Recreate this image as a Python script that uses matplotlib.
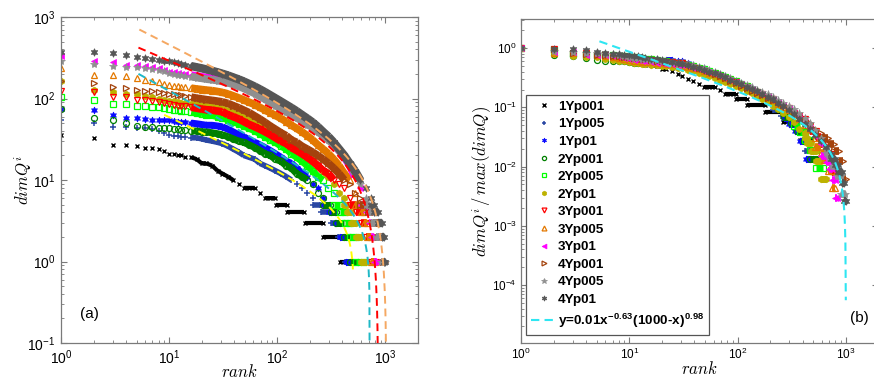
import numpy as np
import matplotlib
matplotlib.use("Agg")
import matplotlib.pyplot as plt
from matplotlib.ticker import LogLocator, NullFormatter

plt.rcParams['font.family'] = ['Liberation Sans', 'DejaVu Sans']
plt.rcParams['mathtext.fontset'] = 'custom'
plt.rcParams['mathtext.rm'] = 'cmr10'
plt.rcParams['mathtext.it'] = 'cmmi10'
plt.rcParams['mathtext.bf'] = 'Liberation Sans:bold'
plt.rcParams['axes.unicode_minus'] = True

RANK = [1, 2, 3, 4, 5, 6, 7, 8, 9, 10, 11, 12, 13, 14, 16, 18, 20, 22, 25, 28,
        31, 35, 39, 44, 49, 55, 62, 69, 77, 86, 96, 108, 121, 135, 151, 169,
        189, 212, 237, 265, 297, 332, 372, 416, 466, 522, 584, 654, 732]

NAMES = ["1Yp001", "1Yp005", "1Yp01", "2Yp001", "2Yp005", "2Yp01",
         "3Yp001", "3Yp005", "3Yp01", "4Yp001", "4Yp005", "4Yp01"]

# values above 5, at the ranks above
y1p001 = [36, 33, 27, 27, 26, 25, 25, 24, 23, 21, 21, 20, 20, 19, 19, 18, 16, 16,
          15, 13, 12, 11, 10, 9, 8, 8, 8, 7, 6, 6, 6]
y1p005 = [55, 50, 45, 45, 44, 43, 42, 40, 38, 36, 35, 35, 34, 34, 33, 33, 32, 31,
          30, 29, 28, 26, 24, 22, 20, 19, 18, 16, 15, 14, 13, 12, 11, 10, 9, 8,
          7, 6]
y1p01 = [75, 72, 63, 58, 57, 56, 55, 55, 54, 54, 53, 52, 52, 51, 50, 49, 48, 47,
         47, 46, 45, 42, 39, 36, 34, 31, 29, 27, 25, 23, 21, 19, 17, 16, 14, 12,
         11, 9, 8, 6]
y2p001 = [74, 57, 55, 50, 46, 45, 45, 44, 44, 43, 42, 42, 41, 41, 40, 40, 39, 39,
          38, 37, 36, 34, 32, 30, 29, 27, 25, 23, 21, 20, 18, 17, 15, 14, 12, 11,
          10, 9, 7, 6]
y2p005 = [105, 96, 85, 85, 81, 80, 79, 78, 76, 74, 73, 72, 71, 70, 68, 66, 64, 63,
          62, 60, 58, 55, 52, 49, 46, 43, 40, 37, 34, 31, 29, 26, 24, 21, 19, 17,
          15, 13, 11, 10, 8, 7]
y2p01 = [162, 127, 121, 114, 113, 108, 104, 100, 97, 94, 92, 90, 88, 87, 85, 83,
         81, 80, 78, 76, 74, 70, 66, 62, 58, 54, 50, 46, 43, 40, 37, 34, 31, 28,
         25, 22, 20, 17, 15, 13, 11, 9, 7, 6]
y3p001 = [125, 121, 105, 104, 96, 95, 92, 90, 88, 85, 84, 82, 81, 80, 78, 76, 74,
          73, 72, 70, 69, 63, 60, 56, 52, 48, 45, 42, 39, 36, 33, 30, 28, 25, 23,
          21, 19, 17, 15, 13, 12, 10, 9, 8, 6]
y3p005 = [234, 194, 194, 190, 177, 170, 165, 160, 152, 145, 143, 141, 139, 137,
          134, 131, 129, 127, 125, 122, 119, 114, 108, 102, 96, 90, 84, 78, 72,
          67, 62, 57, 52, 47, 43, 39, 35, 31, 27, 24, 21, 18, 15, 12, 10, 7]
y3p01 = [333, 289, 283, 258, 258, 250, 245, 236, 225, 214, 210, 206, 202, 199,
         194, 189, 185, 181, 177, 173, 170, 163, 155, 147, 139, 130, 121, 112,
         104, 96, 88, 81, 74, 67, 61, 56, 51, 46, 41, 36, 32, 27, 23, 19, 15, 11,
         8]
y4p001 = [164, 156, 137, 133, 127, 124, 122, 120, 118, 115, 113, 111, 109, 107,
          104, 101, 99, 97, 95, 93, 91, 87, 82, 77, 72, 67, 61, 56, 51, 46, 42,
          38, 35, 31, 29, 26, 24, 22, 20, 18, 16, 14, 12, 10, 9, 7, 6]
y4p005 = [291, 262, 250, 245, 241, 236, 230, 224, 215, 205, 201, 197, 194, 191,
          186, 181, 177, 173, 170, 166, 162, 156, 149, 141, 133, 124, 115, 106,
          98, 90, 82, 75, 69, 63, 58, 53, 48, 44, 39, 35, 31, 27, 23, 19, 16, 12,
          9, 6]
y4p01 = [375, 368, 365, 342, 322, 310, 302, 296, 292, 285, 278, 271, 265, 259,
         250, 242, 235, 228, 219, 210, 202, 192, 182, 172, 162, 151, 140, 130,
         120, 110, 101, 92, 84, 77, 70, 63, 57, 51, 45, 39, 34, 29, 24, 20, 16,
         13, 10, 8, 6]

SERIES = [y1p001, y1p005, y1p01, y2p001, y2p005, y2p01,
          y3p001, y3p005, y3p01, y4p001, y4p005, y4p01]

# integer tail: last rank holding the value 5, 4, 3, 2, 1
TAIL_LEVEL = [5, 4, 3, 2, 1]
TAIL_END = [
    [122, 178, 263, 376, 480],
    [250, 310, 360, 420, 470],
    [300, 340, 380, 430, 500],
    [310, 350, 410, 470, 560],
    [380, 420, 470, 530, 620],
    [440, 480, 530, 590, 660],
    [530, 590, 660, 740, 820],
    [590, 630, 680, 740, 800],
    [660, 700, 740, 790, 830],
    [690, 770, 860, 940, 1000],
    [700, 740, 820, 900, 980],
    [790, 850, 920, 970, 1000],
]

# fitted curves y = a x^-b (n - x)^c in panel (a)
FIT_COLOR = ["#f5a862", "#ff0000", "#1fb8c6", "#ffff00"]
FIT_A = [0.7026, 0.2287, 20.3, 12.94]
FIT_B = [0.669, 0.558, 0.729, 0.624]
FIT_C = [1.159, 1.2505, 0.532, 0.4755]
FIT_N = [1020, 858, 716, 510]
FIT_X0 = [5.3, 5.2, 5.2, 9.0]
FIT_X1 = [1019.99, 857.99, 715.99, 500.0]

# collapse curve in panel (b)
B_FIT = (0.0043, 0.63, 0.98, 1000, 5.3, 999.0)
B_LABEL = r"y=0.01x$^{\mathbf{-0.63}}$(1000-x)$^{\mathbf{0.98}}$"

STYLE = [
    dict(marker="x", color="black", ms=3.2, mew=1.0, mfc="black"),
    dict(marker="+", color="#2a47a3", ms=5, mew=1.1, mfc="#2a47a3"),
    dict(marker=(6, 1, 0), color="#0a0aff", ms=5, mew=0.5, mfc="#0a0aff"),
    dict(marker="o", color="#008000", ms=4.3, mew=0.9, mfc="none"),
    dict(marker="s", color="#00ff00", ms=4.5, mew=0.9, mfc="none"),
    dict(marker="h", color="#bdb200", ms=4.8, mew=0.5, mfc="#bdb200"),
    dict(marker="v", color="#ff0000", ms=5, mew=0.9, mfc="none"),
    dict(marker="^", color="#e37800", ms=5, mew=0.9, mfc="none"),
    dict(marker="<", color="#ff00ff", ms=5, mew=0.5, mfc="#ff00ff"),
    dict(marker=">", color="#a4430d", ms=5, mew=0.9, mfc="none"),
    dict(marker="*", color="#8f8f8f", ms=6, mew=0.5, mfc="#8f8f8f"),
    dict(marker=(6, 1, 0), color="#565656", ms=5.5, mew=0.5, mfc="#565656"),
]
BAND_LW = [3.0, 4.0, 5.0, 5.0, 5.0, 5.0, 5.5, 5.5, 5.5, 5.5, 5.5, 6.0]

SPINE = "#7a7a7a"
BAND_FROM = 16   # ranks beyond this are dense enough to read as a band


def fit_curve(a, b, c, n, x0, x1):
    x = np.logspace(np.log10(x0), np.log10(x1), 600)
    return x, a * x ** (-b) * (n - x) ** c


def band_path(r, v):
    # join neighbours in the dense part; lower down only join equal levels
    xs, ys = [], []
    for i in range(len(r) - 1):
        if r[i] < BAND_FROM:
            continue
        if v[i + 1] >= 10 or v[i] == v[i + 1]:
            xs += [r[i], r[i + 1], np.nan]
            ys += [v[i], v[i + 1], np.nan]
    return xs, ys


def draw_series(ax, vals, ends, st, lw, scale=1.0, label=None):
    r = RANK[:len(vals)]
    v = np.array(vals, dtype=float) / scale
    xs, ys = band_path(r, v)
    ax.plot(xs, ys, ls="-", color=st["color"], lw=lw, solid_capstyle="butt")
    h, = ax.plot(r, v, ls="none", label=label, **st)
    # flat runs of the integer tail
    start = r[-1] + 1
    for lev, end in zip(TAIL_LEVEL, ends):
        y = lev / scale
        ax.plot([start, end], [y, y], ls="-", color=st["color"], lw=lw,
                solid_capstyle="butt")
        ax.plot([start, end], [y, y], ls="none", **st)
        start = end + 1
    return h


def style_axes(ax, size, pad=4):
    ax.set_xscale("log")
    ax.set_yscale("log")
    for s in ax.spines.values():
        s.set_color(SPINE)
        s.set_linewidth(0.9)
    ax.tick_params(which="both", direction="in", top=True, right=True,
                   color=SPINE, labelsize=size, pad=pad)
    ax.tick_params(which="major", length=4, width=0.8)
    ax.tick_params(which="minor", length=2, width=0.6)
    ax.xaxis.set_minor_locator(LogLocator(base=10, subs=np.arange(2, 10), numticks=20))
    ax.yaxis.set_minor_locator(LogLocator(base=10, subs=np.arange(2, 10), numticks=20))
    ax.xaxis.set_minor_formatter(NullFormatter())
    ax.yaxis.set_minor_formatter(NullFormatter())


fig = plt.figure(figsize=(8.74, 3.81), dpi=100)
ax1 = fig.add_axes([0.0698, 0.0997, 0.4085, 0.8556])
ax2 = fig.add_axes([0.5961, 0.0997, 0.4090, 0.8504])

# ── panel (a) ────────────────────────────────────────────────────────────
for vals, ends, st, lw in zip(SERIES, TAIL_END, STYLE, BAND_LW):
    draw_series(ax1, vals, ends, st, lw)
for col, a, b, c, n, x0, x1 in zip(FIT_COLOR, FIT_A, FIT_B, FIT_C, FIT_N, FIT_X0, FIT_X1):
    x, y = fit_curve(a, b, c, n, x0, x1)
    ax1.plot(x, y, ls=(0, (4, 2.5)), color=col, lw=1.4, zorder=5)

style_axes(ax1, 10)
ax1.set_xlim(1, 2000)
ax1.set_ylim(0.1, 1000)
ax1.set_xlabel(r"$rank$", fontsize=12, labelpad=-3)
ax1.set_ylabel(r"$dimQ^i$", fontsize=12, labelpad=-5)
ax1.text(0.081, 0.089, "(a)", transform=ax1.transAxes, fontsize=11,
         ha="center", va="center")

# ── panel (b) ────────────────────────────────────────────────────────────
handles = []
for vals, ends, st, lw, name in zip(SERIES, TAIL_END, STYLE, BAND_LW, NAMES):
    handles.append(draw_series(ax2, vals, ends, st, lw, scale=max(vals), label=name))
a, b, c, n, x0, x1 = B_FIT
x, y = fit_curve(a, b, c, n, x0, x1)
h, = ax2.plot(x, y, ls=(0, (4, 2.5)), color="#2ee6f2", lw=1.5, zorder=5,
              label=B_LABEL)
handles.append(h)

style_axes(ax2, 8.5, pad=3)
ax2.set_xlim(1, 2000)
ax2.set_ylim(1.05e-5, 3.1)
ax2.set_yticks([1e-4, 1e-3, 1e-2, 1e-1, 1e0])
ax2.set_xlabel(r"$rank$", fontsize=12, labelpad=-2)
ax2.set_ylabel(r"$dimQ^i\,/\,max(dimQ)$", fontsize=12, labelpad=-1.5)
ax2.text(0.948, 0.077, "(b)", transform=ax2.transAxes, fontsize=11,
         ha="center", va="center")

leg = ax2.legend(handles=handles, loc="lower left", bbox_to_anchor=(0.014, 0.025),
                 prop={"weight": "bold", "size": 9.7}, frameon=True, fancybox=False,
                 framealpha=1, edgecolor="#555555", numpoints=1, markerscale=0.7,
                 handlelength=1.8, handletextpad=0.15, labelspacing=0.38,
                 borderpad=0.4, borderaxespad=0)
leg.get_frame().set_linewidth(0.9)

fig.savefig("out.png", dpi=100)
